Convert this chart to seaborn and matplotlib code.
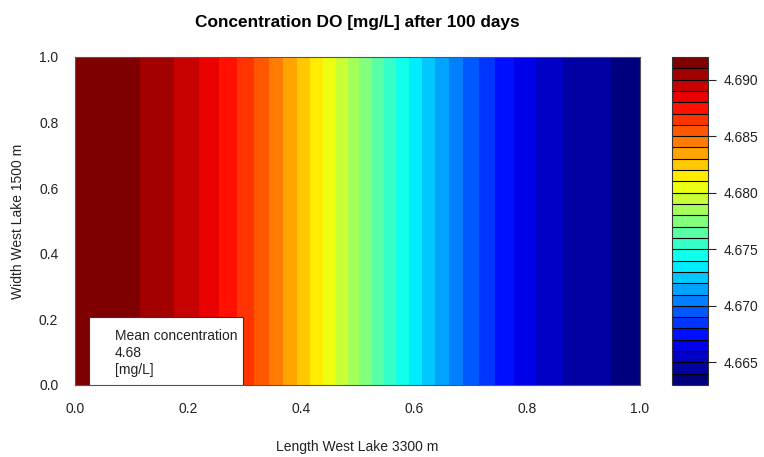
import numpy as np
import seaborn as sns
import matplotlib
matplotlib.use("Agg")
import matplotlib.pyplot as plt
from matplotlib.patches import Rectangle

# concentration profile along the lake length
x_pos = [0.0, 0.115, 0.175, 0.219, 0.255, 0.287, 0.317, 0.343, 0.368, 0.393,
         0.416, 0.439, 0.462, 0.483, 0.503, 0.526, 0.547, 0.568, 0.591, 0.614,
         0.637, 0.662, 0.687, 0.715, 0.743, 0.777, 0.816, 0.864, 0.949, 1.0]
conc = [4.6918, 4.691, 4.690, 4.689, 4.688, 4.687, 4.686, 4.685, 4.684, 4.683,
        4.682, 4.681, 4.680, 4.679, 4.678, 4.677, 4.676, 4.675, 4.674, 4.673,
        4.672, 4.671, 4.670, 4.669, 4.668, 4.667, 4.666, 4.665, 4.664, 4.6636]
y_pos = [0.0, 1.0]
levels = np.linspace(4.663, 4.692, 30)
cbar_ticks = [4.665, 4.670, 4.675, 4.680, 4.685, 4.690]
axis_ticks = [0.0, 0.2, 0.4, 0.6, 0.8, 1.0]
mean_conc = 4.68

sns.set_style("white")
plt.rcParams['font.family'] = ['Liberation Sans', 'DejaVu Sans']
txt = "#222222"

# jet-like palette, one colour per band
jet = ["#00007F", "blue", "#007FFF", "cyan", "#7FFF7F", "yellow", "#FF7F00", "red", "#7F0000"]
palette = sns.blend_palette(jet, n_colors=len(levels) - 1)

W, H = 764, 457
fig = plt.figure(figsize=(W / 100, H / 100), dpi=100)
ax = fig.add_axes([75 / W, 1 - 385 / H, 565 / W, 328 / H])
cax = fig.add_axes([672 / W, 1 - 385 / H, 36 / W, 328 / H])

Z = np.tile(conc, (len(y_pos), 1))
cs = ax.contourf(x_pos, y_pos, Z, levels=levels, colors=palette)
ax.set_xlim(0, 1)
ax.set_ylim(0, 1)
ax.set_xticks(axis_ticks)
ax.set_yticks(axis_ticks)
ax.set_xticklabels([f"{t:.1f}" for t in axis_ticks])
ax.set_yticklabels([f"{t:.1f}" for t in axis_ticks])
ax.tick_params(direction="out", length=6, width=0.8, labelsize=10, colors="black",
               labelcolor=txt, pad=6)
for s in ax.spines.values():
    s.set_color("#555555")
    s.set_linewidth(0.8)

# legend-like box for the mean value
ax.add_patch(Rectangle((0.0248, 0.0), 0.272, 0.207, transform=ax.transAxes,
                       facecolor="white", edgecolor="#333333", linewidth=0.8, zorder=5))
ax.text(0.071, 0.170, f"Mean concentration\n{mean_conc}\n[mg/L]", transform=ax.transAxes,
        ha="left", va="top", fontsize=10, linespacing=1.25, color=txt, zorder=6)

cb = fig.colorbar(cs, cax=cax, drawedges=True)
cb.set_ticks(cbar_ticks)
cb.set_ticklabels([f"{t:.3f}" for t in cbar_ticks])
cb.outline.set_edgecolor("#333333")
cb.outline.set_linewidth(0.8)
cb.dividers.set_color("black")
cb.dividers.set_linewidth(0.8)
cax.tick_params(direction="out", length=6, width=0.8, labelsize=10, labelcolor=txt, pad=5)

fig.text(357.5 / W, 1 - 22 / H, "Concentration DO [mg/L] after 100 days",
         ha="center", va="center", fontsize=12.4, fontweight="bold", color="black")
fig.text(357.5 / W, 1 - 447 / H, "Length West Lake 3300 m", ha="center", va="center",
         fontsize=10, color=txt)
fig.text(18 / W, 1 - 221 / H, "Width West Lake 1500 m", ha="center", va="center",
         fontsize=10, rotation=90, color=txt)

fig.savefig("out.png", dpi=100)
